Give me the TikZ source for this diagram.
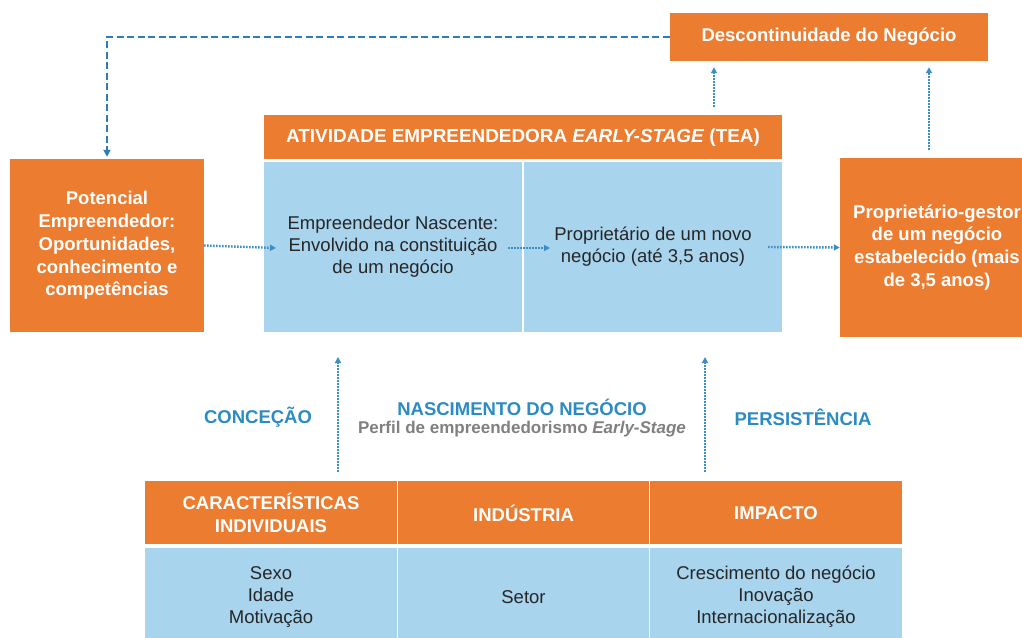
\documentclass[tikz,border=0pt]{standalone}
\usepackage{fontspec}
\setmainfont{Liberation Sans}
\usetikzlibrary{arrows.meta}
\definecolor{gemorange}{HTML}{EC7C30}
\definecolor{gemblue}{HTML}{A8D4EE}
\definecolor{gemarrow}{HTML}{3A8DC5}
\definecolor{gemdash}{HTML}{2F7DB8}
\definecolor{gemtitle}{HTML}{2C8BC3}
\definecolor{gemgray}{HTML}{808080}
\definecolor{gemtext}{HTML}{262626}
\begin{document}
\begin{tikzpicture}[x=1pt,y=-1pt,
  every node/.style={inner sep=0pt,align=center},
  orangebox/.style={fill=gemorange,text=white,font=\fontsize{18.5}{22.8}\selectfont\bfseries},
  bluebox/.style={fill=gemblue,text=gemtext,font=\fontsize{18.5}{22}\selectfont},
  phase/.style={text=gemtitle,font=\fontsize{18.5}{22}\selectfont\bfseries},
  flow/.style={draw=gemarrow,line width=2.4pt,dash pattern=on 1.5pt off 1.5pt,-{Triangle[length=6pt,width=6pt]}},
  back/.style={draw=gemdash,line width=2.2pt,dash pattern=on 7pt off 3.5pt,-{Triangle[length=7pt,width=7pt]}}]
\useasboundingbox (0,0) rectangle (1022,637);
\fill[white] (0,0) rectangle (1022,637);
\node[orangebox,minimum width=194,minimum height=173] (potencial) at (107,245.5) {Potencial\\Empreendedor:\\Oportunidades,\\conhecimento e\\competências};
\node[orangebox,minimum width=518,minimum height=45,font=\fontsize{18.9}{22}\selectfont\bfseries] (tea) at (523,137.5) {ATIVIDADE EMPREENDEDORA \textit{EARLY-STAGE} (TEA)};
\node[bluebox,minimum width=258,minimum height=170] (nascente) at (393,247) {Empreendedor Nascente:\\Envolvido na constituição\\de um negócio};
\node[bluebox,minimum width=258,minimum height=170] (novo) at (653,247) {Proprietário de um novo\\negócio (até 3,5 anos)};
\node[orangebox,minimum width=318,minimum height=48] (descont) at (829,37) {Descontinuidade do Negócio};
\node[orangebox,minimum width=194,minimum height=179] (gestor) at (937,247.5) {Proprietário-gestor\\de um negócio\\estabelecido (mais\\de 3,5 anos)};
\node[phase] (concecao) at (258,417) {CONCEÇÃO};
\node[phase] (nascimento) at (522,407) {NASCIMENTO DO NEGÓCIO};
\node[text=gemgray,font=\fontsize{17}{20}\selectfont\bfseries] (perfil) at (522,429) {Perfil de empreendedorismo \textit{Early-Stage}};
\node[phase] (persist) at (803,417) {PERSISTÊNCIA};
\node[orangebox,minimum width=252,minimum height=64] (caract) at (271,513) {CARACTERÍSTICAS\\INDIVIDUAIS};
\node[orangebox,minimum width=251,minimum height=64] (industria) at (523.5,513) {INDÚSTRIA};
\node[orangebox,minimum width=252,minimum height=64] (impacto) at (776,513) {IMPACTO};
\node[bluebox,minimum width=252,minimum height=98] (sexo) at (271,597) {Sexo\\Idade\\Motivação};
\node[bluebox,minimum width=251,minimum height=98] (setor) at (523.5,597) {Setor};
\node[bluebox,minimum width=252,minimum height=98] (cresc) at (776,597) {Crescimento do negócio\\Inovação\\Internacionalização};
\draw[white,line width=1.2pt] (nascente.north east) -- (nascente.south east);
\draw[white,line width=1.2pt] (caract.north east) -- (sexo.south east);
\draw[white,line width=1.2pt] (industria.north east) -- (setor.south east);
\draw[white,line width=2pt] (tea.south west) -- (tea.south east);
\draw[white,line width=2.5pt] (caract.south west) -- (impacto.south east);
\coordinate (entrada) at (276,248);
\coordinate (saida) at (508,248);
\coordinate (chegada) at (550,248);
\draw[flow] (potencial.east) -- (entrada);
\draw[flow] (saida) -- (chegada);
\draw[flow] (novo.east -| 768,0) -- (gestor.west);
\draw[flow,shorten <=8pt,shorten >=6pt] (tea.north -| 714,0) -- (descont.south -| 714,0);
\draw[flow,shorten <=8pt,shorten >=6pt] (gestor.north -| 929,0) -- (descont.south -| 929,0);
\draw[back,shorten >=2pt] (descont.west) -| (potencial.north);
\draw[flow,shorten <=9pt] (caract.north -| 338,0) -- (338,357);
\draw[flow,shorten <=9pt] (impacto.north -| 705,0) -- (705,357);
\end{tikzpicture}
\end{document}
